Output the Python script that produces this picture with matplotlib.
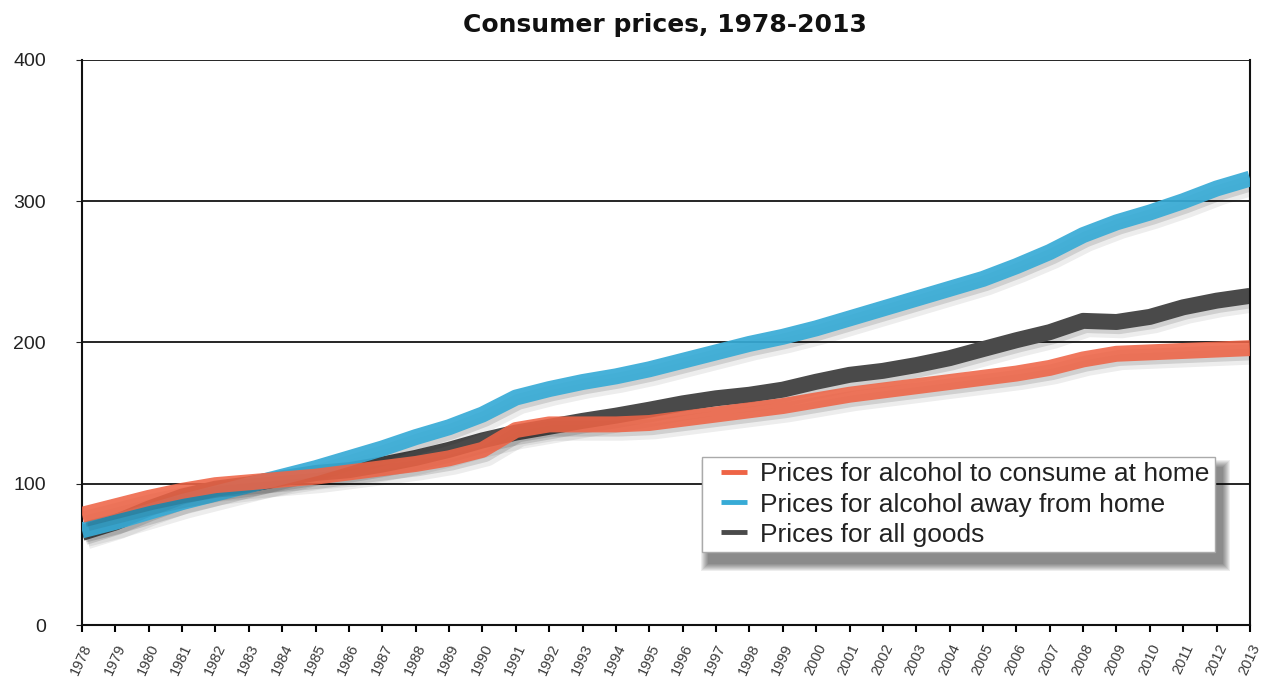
import numpy as np
import matplotlib
matplotlib.use("Agg")
import matplotlib.pyplot as plt
import matplotlib.patheffects as pe
from matplotlib.lines import Line2D
from matplotlib.patches import Rectangle
from matplotlib.transforms import IdentityTransform

plt.rcParams['font.family'] = ['Liberation Sans', 'DejaVu Sans']

# Price indices by year
years = list(range(1978, 2014))
at_home = [78, 84, 90, 95, 99, 101, 103, 105, 108, 111, 114, 118, 124, 138,
           142, 142, 142, 143, 146, 149, 152, 155, 159, 163, 166, 169, 172,
           175, 178, 182, 188, 192, 193, 194, 195, 196]
away_from_home = [67, 73, 80, 87, 93, 99, 105, 111, 118, 125, 133, 140, 149,
                  161, 167, 172, 176, 181, 187, 193, 199, 204, 210, 217, 224,
                  231, 238, 245, 254, 264, 276, 285, 292, 300, 309, 316]
all_goods = [65.2, 72.6, 82.4, 90.9, 96.5, 99.6, 103.9, 107.6, 109.6, 113.6,
             118.3, 124.0, 130.7, 136.2, 140.3, 144.5, 148.2, 152.4, 156.9,
             160.5, 163.0, 166.6, 172.2, 177.1, 179.9, 184.0, 188.9, 195.3,
             201.6, 207.3, 215.3, 214.5, 218.1, 224.9, 229.6, 233.0]

labels = ['Prices for alcohol to consume at home',
          'Prices for alcohol away from home',
          'Prices for all goods']
colors = ['#ee6446', '#37abd6', '#4a4a4a']

fig = plt.figure(figsize=(12.69, 6.81), dpi=100)
ax = fig.add_axes([0.0646, 0.0822, 0.9204, 0.8298])

# soft drop shadow under each line
shadow = [pe.SimpleLineShadow(offset=(2, -3), alpha=0.12, shadow_color='black'),
          pe.SimpleLineShadow(offset=(4, -6), alpha=0.07, shadow_color='black'),
          pe.Normal()]

ax.plot(years, all_goods, color=colors[2], lw=11.5, zorder=2,
        solid_capstyle='butt', path_effects=shadow)
ax.plot(years, away_from_home, color=colors[1], lw=11.5, zorder=3,
        alpha=0.92, solid_capstyle='butt', path_effects=shadow)
ax.plot(years, at_home, color=colors[0], lw=11.5, zorder=4, alpha=0.88,
        solid_capstyle='butt', path_effects=shadow)

ax.set_xlim(1978, 2013)
ax.set_ylim(0, 400)
ax.set_yticks([0, 100, 200, 300, 400])
ax.set_xticks(years)
ax.set_xticklabels([str(y) for y in years], rotation=65, ha='right',
                   rotation_mode='anchor', fontsize=10.5, color='#3a3a3a')
ax.tick_params(axis='y', length=4, labelsize=14, colors='#222222', pad=22)
ax.tick_params(axis='x', length=5, width=1.5, direction='out', pad=7)
ax.grid(axis='y', color='black', lw=1.2, zorder=1)
ax.set_axisbelow(True)
ax.spines['top'].set_visible(False)
for s in ['left', 'right', 'bottom']:
    ax.spines[s].set_linewidth(1.5)
    ax.spines[s].set_color('#111111')

# short dash markers as legend keys, centred in a wide handle box
handles = [Line2D([], [], color=c, marker='_', markersize=19,
                  markeredgewidth=3.5, linestyle='none') for c in colors]
leg = ax.legend(handles, labels, loc='lower right',
                bbox_to_anchor=(0.970, 0.129), borderaxespad=0,
                fontsize=19, frameon=True, fancybox=False, framealpha=1,
                handlelength=2.0, handletextpad=0.0, labelspacing=0.23,
                borderpad=0.21, numpoints=1)
leg.get_frame().set_edgecolor('#aaaaaa')
leg.get_frame().set_linewidth(1.0)
leg.set_zorder(10)
for t in leg.get_texts():
    t.set_color('#222222')

fig.text(0.524, 0.953, 'Consumer prices, 1978-2013', ha='center',
         va='baseline', fontsize=18, fontweight='bold', color='#111111',
         family='DejaVu Sans')

# blurred shadow behind the legend box, stacked translucent rectangles
fig.canvas.draw()
bb = leg.get_frame().get_window_extent()
for k in range(8):
    grow = 8 - k
    ax.add_patch(Rectangle((bb.x0 + 7 - grow, bb.y0 - 11 - grow),
                           bb.width + 2 * grow, bb.height + 2 * grow,
                           transform=IdentityTransform(), facecolor='black',
                           edgecolor='none', alpha=0.07, zorder=9,
                           clip_on=False))

fig.savefig('out.png', dpi=100)
